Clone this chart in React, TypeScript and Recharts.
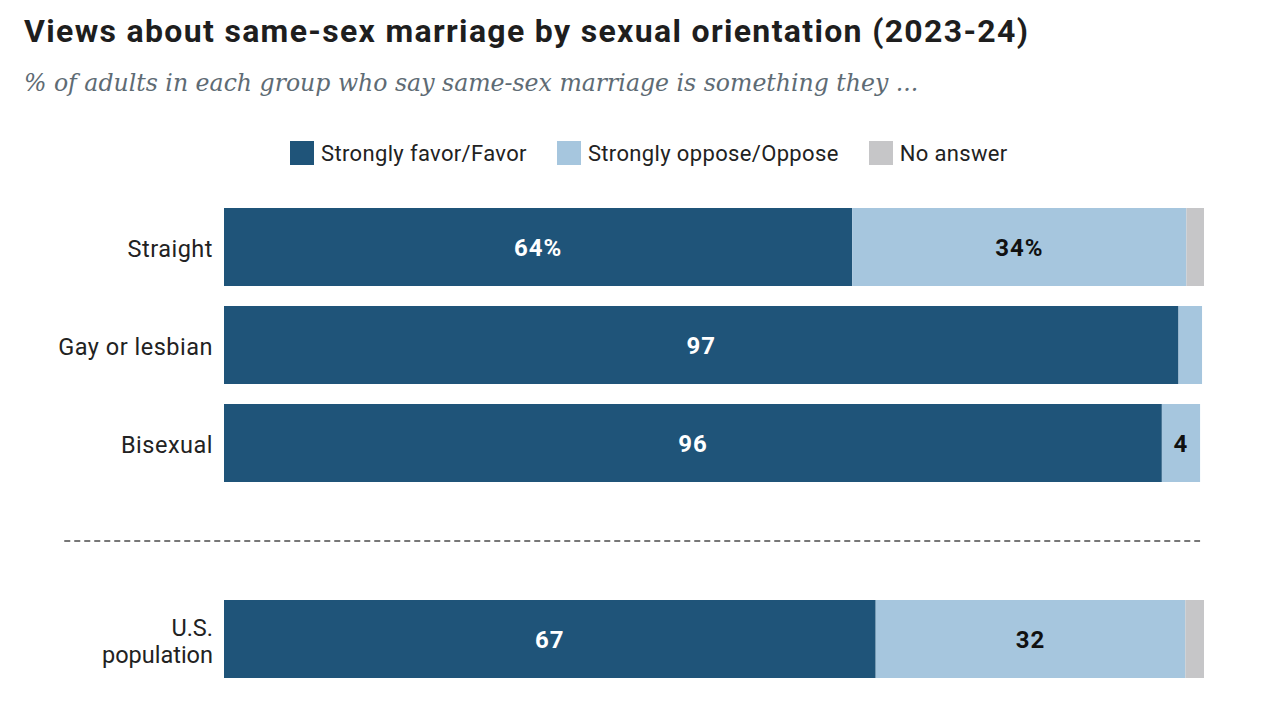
import React from "react";
import {
  BarChart,
  Bar,
  XAxis,
  YAxis,
  LabelList,
  ReferenceLine,
} from "recharts";

const categories = ["straight", "gay", "bi", "sep", "us"];
const categoryLabels = [["Straight"], ["Gay or lesbian"], ["Bisexual"], [], ["U.S.", "population"]];
const favorValues = [64.1, 97.4, 95.7, null, 66.5];
const opposeValues = [34.1, 2.4, 3.9, null, 31.6];
const noAnswerValues = [1.8, 0, 0, null, 1.9];
const favorLabels = ["64%", "97", "96", "", "67"];
const opposeLabels = ["34%", "", "4", "", "32"];

const legendItems = [
  { name: "Strongly favor/Favor", color: "#1f5479" },
  { name: "Strongly oppose/Oppose", color: "#a6c6de" },
  { name: "No answer", color: "#c6c6c8" },
];

const data = categories.map((c, i) => ({
  id: c,
  favor: favorValues[i],
  oppose: opposeValues[i],
  none: noAnswerValues[i],
  favorLabel: favorLabels[i],
  opposeLabel: opposeLabels[i],
}));

const FONT = "Roboto, 'Liberation Sans', sans-serif";

const CategoryTick = (props: any) => {
  const { x, y, payload } = props;
  const idx = categories.indexOf(payload.value);
  const lines = categoryLabels[idx] || [];
  const lh = 27;
  const start = -((lines.length - 1) * lh) / 2 + 2;
  return (
    <text
      x={x}
      y={y}
      textAnchor="end"
      fill="#222"
      fontSize={23.5}
      letterSpacing={lines.length > 1 ? 0 : 0.5}
      fontFamily={FONT}
    >
      {lines.map((l: string, i: number) => (
        <tspan key={i} x={x} y={y + start + i * lh} dy="0.36em">
          {l}
        </tspan>
      ))}
    </text>
  );
};

export default function App() {
  return (
    <div
      style={{
        position: "absolute",
        left: 0,
        top: 0,
        width: 1262,
        height: 706,
        background: "#fff",
        overflow: "hidden",
      }}
    >
      <div
        style={{
          position: "absolute",
          left: 24,
          top: 11,
          fontFamily: FONT,
          fontWeight: 700,
          fontSize: 32,
          letterSpacing: 1.33,
          color: "#1e1e1e",
          whiteSpace: "nowrap",
          lineHeight: "40px",
        }}
      >
        Views about same-sex marriage by sexual orientation (2023-24)
      </div>
      <div
        style={{
          position: "absolute",
          left: 24,
          top: 65,
          fontFamily: "'DejaVu Serif', serif",
          fontStyle: "italic",
          fontSize: 23.6,
          color: "#5e6b74",
          whiteSpace: "nowrap",
          lineHeight: "36px",
        }}
      >
        % of adults in each group who say same-sex marriage is something they ...
      </div>
      <div
        style={{
          position: "absolute",
          left: 290,
          top: 141,
          display: "flex",
          fontFamily: FONT,
          fontSize: 22,
          letterSpacing: 0.35,
          color: "#222",
        }}
      >
        {legendItems.map((it, i) => (
          <div
            key={it.name}
            style={{
              display: "flex",
              alignItems: "center",
              marginRight: i < legendItems.length - 1 ? 30 : 0,
              height: 24,
            }}
          >
            <div style={{ width: 24, height: 24, background: it.color, marginRight: 7 }} />
            <span style={{ whiteSpace: "nowrap" }}>{it.name}</span>
          </div>
        ))}
      </div>
      <div style={{ position: "absolute", left: 0, top: 0 }}>
        <BarChart
          width={1262}
          height={706}
          data={data}
          layout="vertical"
          margin={{ top: 198, right: 58, bottom: 18, left: 0 }}
          barCategoryGap={20}
        >
          <XAxis type="number" domain={[0, 100]} hide />
          <YAxis
            type="category"
            dataKey="id"
            width={224}
            axisLine={false}
            tickLine={false}
            tickSize={0}
            tickMargin={11}
            tick={<CategoryTick />}
            interval={0}
          />
          <ReferenceLine
            segment={[
              { x: -16.3, y: "sep" },
              { x: 99.6, y: "sep" },
            ]}
            ifOverflow="visible"
            stroke="#777"
            strokeWidth={2}
            strokeDasharray="6 4"
          />
          <Bar dataKey="favor" stackId="a" fill="#1f5479" barSize={78} isAnimationActive={false}>
            <LabelList
              dataKey="favorLabel"
              position="center"
              fill="#fff"
              fontSize={24}
              letterSpacing={1}
              fontWeight={700}
              fontFamily={FONT}
            />
          </Bar>
          <Bar dataKey="oppose" stackId="a" fill="#a6c6de" barSize={78} isAnimationActive={false}>
            <LabelList
              dataKey="opposeLabel"
              position="center"
              fill="#111"
              fontSize={24}
              letterSpacing={1}
              fontWeight={700}
              fontFamily={FONT}
            />
          </Bar>
          <Bar dataKey="none" stackId="a" fill="#c6c6c8" barSize={78} isAnimationActive={false} />
        </BarChart>
      </div>
    </div>
  );
}
